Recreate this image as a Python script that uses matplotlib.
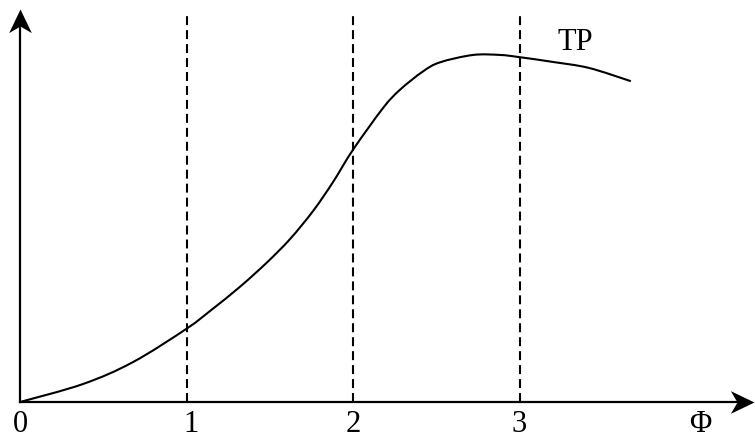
import matplotlib
matplotlib.use("Agg")
import numpy as np
import matplotlib.pyplot as plt
from matplotlib.path import Path
from matplotlib.patches import PathPatch

# curve points
phi = [0.0, 0.378, 0.679, 1.0, 1.153, 1.321, 1.483, 1.622, 1.760, 1.880,
       2.0, 2.180, 2.282, 2.420, 2.523, 2.721, 2.883, 2.991, 3.201, 3.417,
       3.664]
tp = [0.0, 0.108, 0.240, 0.440, 0.556, 0.692, 0.838, 0.979, 1.147, 1.321,
      1.515, 1.765, 1.875, 1.985, 2.040, 2.084, 2.084, 2.072, 2.042, 2.006,
      1.928]

dash_x = [1, 2, 3]
tick_labels = ["0", "1", "2", "3"]
tick_pos = [0, 1, 2, 3]

plt.rcParams['font.family'] = ['Liberation Serif', 'DejaVu Serif']


def smooth_path(xs, ys):
    # catmull-rom through the points, written as cubic beziers
    p = np.column_stack([xs, ys])
    p = np.vstack([p[0], p, p[-1]])
    verts = [p[1]]
    codes = [Path.MOVETO]
    for i in range(1, len(p) - 2):
        c1 = p[i] + (p[i + 1] - p[i - 1]) / 6
        c2 = p[i + 1] - (p[i + 2] - p[i]) / 6
        verts += [c1, c2, p[i + 1]]
        codes += [Path.CURVE4] * 3
    return Path(verts, codes)


# stealth-like arrow head pointing right
head = Path([(0, 0), (-1, 0.48), (-0.72, 0), (-1, -0.48), (0, 0)],
            [Path.MOVETO, Path.LINETO, Path.LINETO, Path.LINETO, Path.CLOSEPOLY])
head_up = Path(head.vertices[:, ::-1], head.codes)

fig = plt.figure(figsize=(7.55, 4.39), dpi=100)
ax = fig.add_axes([0, 0, 1, 1])
ax.set_xlim(-0.120, 4.414)
ax.set_ylim(-0.216, 2.420)
ax.axis('off')

# axes with arrows
ax.plot([0, 4.33], [0, 0], color='black', lw=1.6)
ax.plot([0, 0], [0, 2.28], color='black', lw=1.6)
ax.plot([4.41], [0], marker=head, markersize=34, color='black', mew=0)
ax.plot([0], [2.36], marker=head_up, markersize=34, color='black', mew=0)

# dashed verticals
for x in dash_x:
    ax.plot([x, x], [0, 2.342], color='black', lw=1.5,
            linestyle=(0, (4.3, 2.4)))

# the curve
ax.add_patch(PathPatch(smooth_path(phi, tp), fill=False, color='black',
                       lw=1.5, capstyle='round'))

# labels
for p, lab in zip(tick_pos, tick_labels):
    nudge = 0.03 if lab == "1" else 0.0
    ax.text(p + nudge, -0.214, lab, fontsize=22, ha='center', va='bottom')
ax.text(4.085, -0.214, "Φ", fontsize=22, ha='center', va='bottom')
ax.text(3.333, 2.120, "TP", fontsize=22, ha='center', va='baseline')

fig.savefig("out.png", dpi=100)
